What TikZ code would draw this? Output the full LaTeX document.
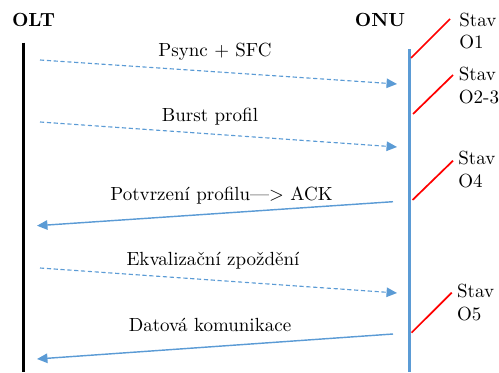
\documentclass[tikz,border=0pt]{standalone}
\usepackage{fontspec}
\usetikzlibrary{arrows.meta}
\definecolor{msgblue}{RGB}{91,155,213}
\tikzset{
  actor/.style={font=\bfseries, anchor=base},
  lifeline/.style={line width=1.6pt},
  msg/.style={msgblue, line width=0.75pt, -{Triangle[length=5.5pt,width=5pt]}},
  async/.style={msg, line width=0.6pt, dash pattern=on 2.2pt off 1.4pt},
  msglabel/.style={anchor=base, inner sep=0pt},
  statetick/.style={red, line width=0.9pt},
  % multi-line node: its base anchor sits on the last line
  statelabel/.style={anchor=base west, inner sep=0pt, align=left}
}
\begin{document}
\begin{tikzpicture}[x=0.526pt, y=-0.526pt]
\useasboundingbox (0,0) rectangle (499,372);

% actors and lifelines
\node[actor] (olt) at (33.5,26.7) {OLT};
\node[actor] (onu) at (380,26.7) {ONU};
\coordinate (oltTop) at (23.3,42.7);
\coordinate (oltBot) at (23.3,372);
\coordinate (onuTop) at (409.5,49.3);
\coordinate (onuBot) at (409.5,372);
\draw[lifeline, black] (oltTop) -- (oltBot);
\draw[lifeline, msgblue] (onuTop) -- (onuBot);

% message end points
\coordinate (m1a) at (40,60);    \coordinate (m1b) at (397,84);
\coordinate (m2a) at (40,122);   \coordinate (m2b) at (397,147);
\coordinate (m3a) at (393,201.7);\coordinate (m3b) at (37,225.7);
\coordinate (m4a) at (40,268);   \coordinate (m4b) at (397,293);
\coordinate (m5a) at (393,334);  \coordinate (m5b) at (37,359);

\draw[async] (m1a) -- (m1b);
\draw[async] (m2a) -- (m2b);
\draw[msg]   (m3a) -- (m3b);
\draw[async] (m4a) -- (m4b);
\draw[msg]   (m5a) -- (m5b);

% message labels
\node[msglabel] (l1) at (215,57)    {Psync + SFC};
\node[msglabel] (l2) at (210,121.5) {Burst profil};
\node[msglabel] (l3) at (221.5,200) {Potvrzení profilu—> ACK};
\node[msglabel] (l4) at (213,265)   {Ekvalizační zpoždění};
\node[msglabel] (l5) at (210,331.5) {Datová komunikace};

% ONU state markers
\coordinate (s1a) at (411,58);    \coordinate (s1b) at (450,19);
\coordinate (s2a) at (413,114);   \coordinate (s2b) at (453,75);
\coordinate (s3a) at (412.5,200); \coordinate (s3b) at (453,160.7);
\coordinate (s4a) at (411.5,332.7); \coordinate (s4b) at (451.7,292.7);
\draw[statetick] (s1a) -- (s1b);
\draw[statetick] (s2a) -- (s2b);
\draw[statetick] (s3a) -- (s3b);
\draw[statetick] (s4a) -- (s4b);

\node[statelabel] (st1) at (459,49)    {Stav\\O1};
\node[statelabel] (st2) at (458.5,103) {Stav\\O2-3};
\node[statelabel] (st3) at (458,187)   {Stav\\O4};
\node[statelabel] (st4) at (456.7,320) {Stav\\O5};
\end{tikzpicture}
\end{document}
